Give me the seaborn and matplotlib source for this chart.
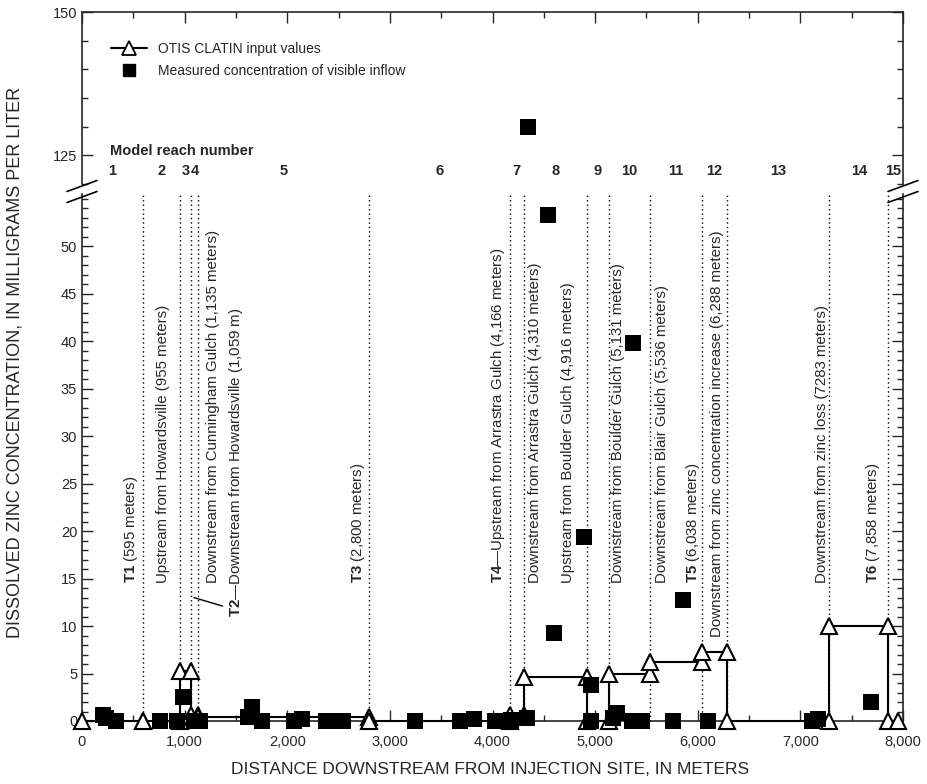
import matplotlib
matplotlib.use("Agg")
import matplotlib.pyplot as plt
import matplotlib.ticker as mticker
from matplotlib.lines import Line2D
import seaborn as sns

# model reach boundaries (m) and OTIS CLATIN value for each reach (mg/L)
reach_bounds = [0, 595, 955, 1059, 1135, 2800, 4166, 4310, 4916, 5131, 5536, 6038, 6288, 7283, 7858, 7950]
clatin = [0, 0, 5.3, 0.6, 0.4, 0, 0.6, 4.6, 0, 5.0, 6.2, 7.3, 0, 10.0, 0]
reach_numbers = [str(n) for n in range(1, 16)]

# measured zinc concentration of visible inflows
inflow_x = [204, 230, 330, 760, 930, 983, 1090, 1150, 1620, 1660, 1750, 2070, 2140, 2380, 2460, 2540,
            3240, 3680, 3815, 4020, 4180, 4340, 4350, 4545, 4595, 4890, 4960, 4955, 5170, 5215,
            5360, 5365, 5460, 5760, 5860, 6100, 7110, 7175, 7690]
inflow_zn = [0.6, 0.3, 0.0, 0.0, 0.0, 2.5, 0.0, 0.0, 0.4, 1.5, 0.0, 0.0, 0.2, 0.0, 0.0, 0.0,
             0.0, 0.0, 0.2, 0.0, 0.1, 0.3, 130.0, 53.3, 9.3, 19.4, 3.8, 0.0, 0.3, 0.8,
             0.0, 39.8, 0.0, 0.0, 12.7, 0.0, 0.0, 0.2, 2.0]

# sites marked with dotted lines
site_x = [595, 955, 1059, 1135, 2800, 4166, 4310, 4916, 5131, 5536, 6038, 6288, 7283, 7858]
site_labels = [
    r"$\mathbf{T1}$ (595 meters)",
    "Upstream from Howardsville (955 meters)",
    r"$\mathbf{T2}$—Downstream from Howardsville (1,059 m)",
    "Downstream from Cunningham Gulch (1,135 meters)",
    r"$\mathbf{T3}$ (2,800 meters)",
    r"$\mathbf{T4}$—Upstream from Arrastra Gulch (4,166 meters)",
    "Downstream from Arrastra Gulch (4,310 meters)",
    "Upstream from Boulder Gulch (4,916 meters)",
    "Downstream from Boulder Gulch (5,131 meters)",
    "Downstream from Blair Gulch (5,536 meters)",
    r"$\mathbf{T5}$ (6,038 meters)",
    "Downstream from zinc concentration increase (6,288 meters)",
    "Downstream from zinc loss (7283 meters)",
    r"$\mathbf{T6}$ (7,858 meters)",
]
label_dx = [-12, -17, 45, 15, -11, -12, 11, -19, 9, 12, -9, -10, -7, -15]  # pixels
label_bottom = [14.5, 14.5, 11.0, 14.5, 14.5, 14.5, 14.5, 14.5, 14.5, 14.5, 14.5, 8.8, 14.5, 14.5]

sns.set_style("ticks")
plt.rcParams['font.family'] = ['Liberation Sans', 'DejaVu Sans']
plt.rcParams['mathtext.fontset'] = 'custom'
plt.rcParams['mathtext.rm'] = 'Liberation Sans'
plt.rcParams['mathtext.bf'] = 'Liberation Sans:bold'

W, H = 928, 784
fig = plt.figure(figsize=(W / 100, H / 100), dpi=100)
x0, x1 = 82, 903
axUp = fig.add_axes([x0 / W, 1 - 184 / H, (x1 - x0) / W, (184 - 12) / H])
axLo = fig.add_axes([x0 / W, 1 - 721 / H, (x1 - x0) / W, (721 - 194) / H])

# step line for CLATIN
step_x, step_y = [], []
for i, v in enumerate(clatin):
    step_x += [reach_bounds[i], reach_bounds[i + 1]]
    step_y += [v, v]

sns.lineplot(x=step_x, y=step_y, sort=False, estimator=None, ax=axLo, color='black', lw=1.5,
             marker='^', markersize=12, markerfacecolor='white', markeredgecolor='black',
             markeredgewidth=1.5, clip_on=False, zorder=4)

lo_x = [x for x, z in zip(inflow_x, inflow_zn) if z < 100]
lo_z = [z for z in inflow_zn if z < 100]
hi_x = [x for x, z in zip(inflow_x, inflow_zn) if z >= 100]
hi_z = [z for z in inflow_zn if z >= 100]
sns.scatterplot(x=lo_x, y=lo_z, ax=axLo, marker='s', s=125, color='black', edgecolor='black',
                linewidth=0, zorder=5, clip_on=False)
sns.scatterplot(x=hi_x, y=hi_z, ax=axUp, marker='s', s=125, color='black', edgecolor='black',
                linewidth=0, zorder=5)

# dotted site lines and labels
for sx, lab, dx, yb in zip(site_x, site_labels, label_dx, label_bottom):
    axLo.axvline(sx, ymin=0, ymax=1, color='black', lw=1, ls=(0, (1, 2.2)), zorder=1)
    axLo.annotate(lab, xy=(sx, yb), xytext=(dx * 0.72, 0), textcoords='offset points',
                  rotation=90, ha='center', va='bottom', fontsize=10.8)
# leader for T2 label
axLo.plot([1090, 1370], [13.0, 12.1], color='black', lw=1)

for ax in (axUp, axLo):
    ax.set_xlim(0, 8000)
    ax.xaxis.set_major_locator(mticker.MultipleLocator(1000))
    ax.xaxis.set_minor_locator(mticker.MultipleLocator(500))
    ax.tick_params(which='both', direction='in', left=True, right=True, labelsize=10.5, width=1)
    ax.tick_params(which='major', length=8)
    ax.tick_params(which='minor', length=4)
    for sp in ax.spines.values():
        sp.set_linewidth(1.2)

axLo.set_ylim(0, 55.5)
axLo.yaxis.set_major_locator(mticker.FixedLocator(list(range(0, 51, 5))))
axLo.yaxis.set_minor_locator(mticker.MultipleLocator(1))
axLo.xaxis.set_major_formatter(mticker.FuncFormatter(lambda v, p: f"{int(v):,}"))
axLo.tick_params(axis='x', which='both', top=False, bottom=True, pad=10)
axLo.spines['top'].set_visible(False)

axUp.set_ylim(120, 150)
axUp.yaxis.set_major_locator(mticker.MultipleLocator(25))
axUp.yaxis.set_minor_locator(mticker.MultipleLocator(5))
axUp.tick_params(axis='x', which='both', top=True, bottom=False, labelbottom=False, labeltop=False)
axUp.spines['bottom'].set_visible(False)
axUp.set_xlabel('')
axUp.set_ylabel('')

# reach numbers
mids = [(reach_bounds[i] + reach_bounds[i + 1]) / 2 for i in range(len(reach_numbers))]
tr = axUp.get_xaxis_transform()
for m, n in zip(mids, reach_numbers):
    axUp.text(m, 0.075, n, transform=tr, ha='center', va='center', fontsize=10.5, fontweight='bold')
axUp.text(0.034, 0.19, 'Model reach number', transform=axUp.transAxes, ha='left', va='center',
          fontsize=10.5, fontweight='bold')

handles = [Line2D([], [], color='black', lw=1.5, marker='^', markersize=10, markerfacecolor='white',
                  markeredgewidth=1.3),
           Line2D([], [], color='black', ls='none', marker='s', markersize=9)]
axUp.legend(handles, ['OTIS CLATIN input values', 'Measured concentration of visible inflow'],
            loc='upper left', bbox_to_anchor=(0.02, 0.9), frameon=False, fontsize=10,
            handlelength=2.6, labelspacing=0.6)

# axis break marks
for bx in (x0, x1):
    for by in (186, 197):
        fig.add_artist(Line2D([(bx - 15) / W, (bx + 15) / W], [1 - (by + 5.5) / H, 1 - (by - 5.5) / H],
                              color='black', lw=1.2))

fig.text(0.528, 0.018, 'DISTANCE DOWNSTREAM FROM INJECTION SITE, IN METERS', ha='center', va='center',
         fontsize=12.5)
fig.text(0.016, 1 - 362 / H, 'DISSOLVED ZINC CONCENTRATION, IN MILLIGRAMS PER LITER', rotation=90,
         ha='center', va='center', fontsize=13)

fig.savefig('out.png', dpi=100)
